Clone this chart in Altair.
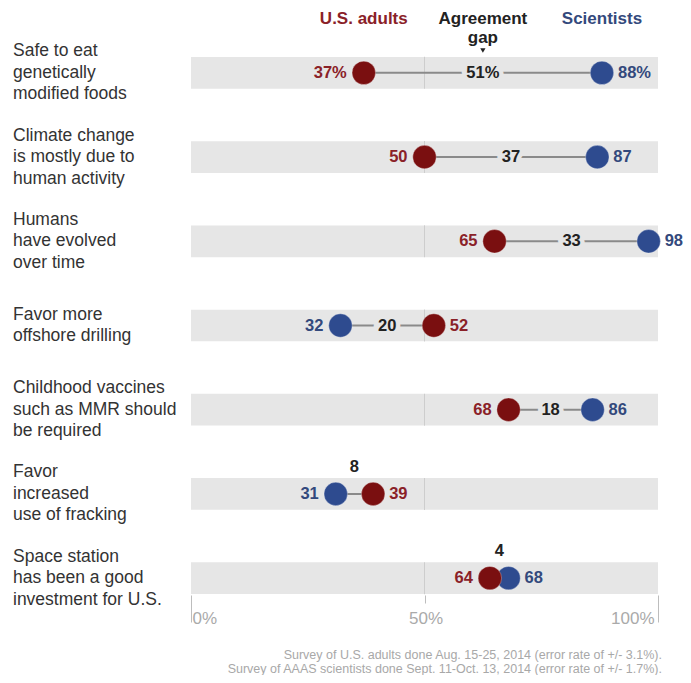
import altair as alt
import pandas as pd

# ---- data ----
questions = [
    "Safe to eat\ngenetically\nmodified foods",
    "Climate change\nis mostly due to\nhuman activity",
    "Humans\nhave evolved\nover time",
    "Favor more\noffshore drilling",
    "Childhood vaccines\nsuch as MMR should\nbe required",
    "Favor\nincreased\nuse of fracking",
    "Space station\nhas been a good\ninvestment for U.S.",
]
adults = [37, 50, 65, 52, 68, 39, 64]
scientists = [88, 87, 98, 32, 86, 31, 68]
gaps = [51, 37, 33, 20, 18, 8, 4]
tick_values = [0, 50, 100]
headers = ["U.S. adults", "Agreement\ngap", "Scientists"]
footnote = ("Survey of U.S. adults done Aug. 15-25, 2014 (error rate of +/- 3.1%).\n"
            "Survey of AAAS scientists done Sept. 11-Oct. 13, 2014 (error rate of +/- 1.7%).")

RED, BLUE = "#7a0f10", "#2e4b8f"
RED_T, BLUE_T = "#8a2128", "#33497c"
BAND = "#e6e6e6"
FONT = "Liberation Sans"
LH = 21.5

# ---- tables ----
rows = []
for i, q in enumerate(questions):
    suf = "%" if i == 0 else ""
    rows.append(dict(q=q, adults=adults[i], sci=scientists[i], gap=gaps[i],
                     mid=(adults[i] + scientists[i]) / 2,
                     gap_t=f"{gaps[i]}{suf}",
                     inline=gaps[i] >= 15,
                     nlines=q.count("\n") + 1))
df = pd.DataFrame(rows)

pts = []
for i, q in enumerate(questions):
    suf = "%" if i == 0 else ""
    lo = min(adults[i], scientists[i])
    pts.append(dict(q=q, group="Scientists", value=scientists[i],
                    t=f"{scientists[i]}{suf}", side="left" if scientists[i] == lo else "right"))
for i, q in enumerate(questions):
    suf = "%" if i == 0 else ""
    lo = min(adults[i], scientists[i])
    pts.append(dict(q=q, group="U.S. adults", value=adults[i],
                    t=f"{adults[i]}{suf}", side="left" if adults[i] == lo and adults[i] != scientists[i] else "right"))
pf = pd.DataFrame(pts)

xscale = alt.Scale(domain=[0, 100], nice=False, zero=False)
yenc = alt.Y("q:N", sort=questions,
             scale=alt.Scale(domain=questions, paddingInner=0.6235, paddingOuter=0.012),
             axis=None)

xaxis = alt.Axis(
    values=tick_values, labelExpr="datum.value + '%'", domain=False, grid=False,
    tickColor="#bdbdbd", tickWidth=1,
    tickSize={"condition": {"test": "datum.value == 50", "value": 8}, "value": 27},
    labelAlign={"condition": [{"test": "datum.value == 0", "value": "left"},
                              {"test": "datum.value == 100", "value": "right"}],
                "value": "center"},
    labelPadding={"condition": {"test": "datum.value == 50", "value": 15}, "value": -4},
    labelOffset={"condition": {"test": "datum.value == 100", "value": -4}, "value": 1},
    labelColor="#aaaaaa", labelFont=FONT, labelFontSize=17, labelBaseline="middle",
    title=None,
)

base = alt.Chart(df)

bands = base.mark_rect(color=BAND).encode(
    x=alt.X(datum=0, type="quantitative", scale=xscale, axis=xaxis),
    x2=alt.datum(100),
    y=yenc,
)

midline = base.mark_tick(color="#c2c2c2", thickness=1, size=32, orient="vertical").encode(
    x=alt.datum(50), y=yenc)

connector = base.mark_rule(color="#8a8a8a", strokeWidth=2).encode(
    x="adults:Q", x2="sci:Q", y=yenc)

gap_style = dict(font=FONT, fontSize=16.5, fontWeight="bold")
gap_halo = base.transform_filter("datum.inline").mark_text(
    color=BAND, stroke=BAND, strokeWidth=9, **gap_style).encode(
    x="mid:Q", y=yenc, text="gap_t:N")
gap_in = base.transform_filter("datum.inline").mark_text(color="#222222", **gap_style).encode(
    x="mid:Q", y=yenc, text="gap_t:N")
gap_above = base.transform_filter("!datum.inline").mark_text(
    color="#222222", dy=-27, **gap_style).encode(x="mid:Q", y=yenc, text="gap_t:N")

dots = alt.Chart(pf).mark_circle(size=550, opacity=1, stroke="#ffffff",
                                 strokeWidth=0.6, strokeOpacity=0.5).encode(
    x="value:Q", y=yenc,
    color=alt.Color("group:N", scale=alt.Scale(domain=["Scientists", "U.S. adults"],
                                               range=[BLUE, RED]), legend=None),
)

lab_color = alt.condition("datum.group == 'U.S. adults'", alt.value(RED_T), alt.value(BLUE_T))
lab_left = alt.Chart(pf).transform_filter("datum.side == 'left'").mark_text(
    align="right", dx=-17, **gap_style).encode(x="value:Q", y=yenc, text="t:N", color=lab_color)
lab_right = alt.Chart(pf).transform_filter("datum.side == 'right'").mark_text(
    align="left", dx=16, **gap_style).encode(x="value:Q", y=yenc, text="t:N", color=lab_color)

lbl_style = dict(align="left", baseline="middle", lineBreak="\n", lineHeight=LH,
                 font=FONT, fontSize=17.5, color="#333333")
row_labels3 = base.transform_filter("datum.nlines == 3").mark_text(dy=-LH, **lbl_style).encode(
    x=alt.value(-178), y=yenc, text="q:N")
row_labels2 = base.transform_filter("datum.nlines == 2").mark_text(dy=-LH / 2, **lbl_style).encode(
    x=alt.value(-178), y=yenc, text="q:N")

first = df.iloc[:1]
hdr_style = dict(font=FONT, fontSize=17, fontWeight="bold", baseline="middle")
h_adults = alt.Chart(first).mark_text(color=RED_T, **hdr_style).encode(
    x="adults:Q", y=alt.value(-37), text=alt.value(headers[0]))
h_gap = alt.Chart(first).mark_text(color="#222222", lineBreak="\n", lineHeight=19,
                                   **hdr_style).encode(
    x="mid:Q", y=alt.value(-37), text=alt.value(headers[1]))
h_sci = alt.Chart(first).mark_text(color=BLUE_T, **hdr_style).encode(
    x="sci:Q", y=alt.value(-37), text=alt.value(headers[2]))
h_tri = alt.Chart(first).mark_point(shape="triangle-down", filled=True, size=28,
                                    color="#222222", opacity=1).encode(
    x="mid:Q", y=alt.value(-5.5))

notes = alt.Chart(pd.DataFrame({"t": [footnote]})).mark_text(
    align="right", baseline="middle", lineBreak="\n", lineHeight=14,
    font=FONT, fontSize=12.5, color="#a8a8a8").encode(
    x=alt.value(471), y=alt.value(599), text="t:N")

chart = alt.layer(
    bands, midline, connector, gap_halo, gap_in, gap_above, dots, lab_left, lab_right,
    row_labels3, row_labels2, h_adults, h_gap, h_sci, h_tri, notes,
).properties(
    width=467, height=539,
    autosize=alt.AutoSizeParams(type="none"),
    padding={"left": 183, "top": 48, "right": 25, "bottom": 80},
    background="white",
).configure_view(stroke=None)

chart.save("out.html", embed_options={"renderer": "svg", "actions": False})
